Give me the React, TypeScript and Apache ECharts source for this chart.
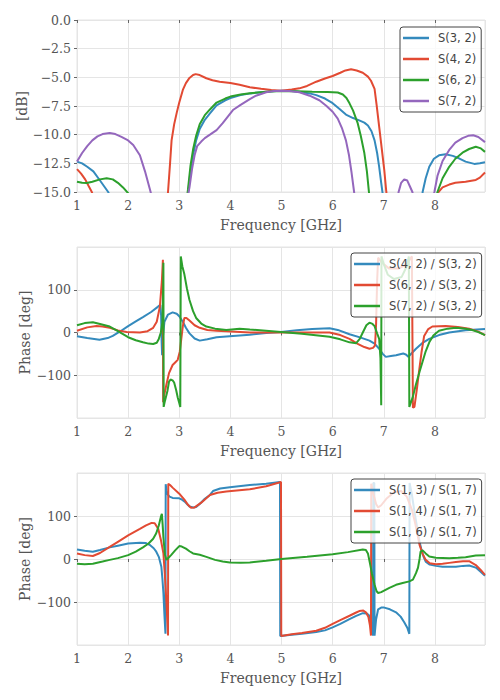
import React, { useEffect, useRef } from "react";
import * as echarts from "echarts";

// ---------- Panel 1: magnitude [dB] ----------
const S32_DB: number[][] = [
  [1.0, -12.35], [1.1, -12.5], [1.2, -12.8], [1.32, -13.2], [1.45, -14.0], [1.61, -15.0], [1.8, -17], [2.0, -20],
  [2.6, -24], [3.0, -22], [3.1, -18], [3.17, -15.2], [3.22, -13.2], [3.27, -11.8], [3.33, -10.5], [3.4, -9.5],
  [3.5, -8.7], [3.6, -8.15], [3.73, -7.45], [3.9, -7.0], [4.0, -6.8], [4.2, -6.55], [4.4, -6.4], [4.6, -6.3],
  [4.8, -6.22], [5.0, -6.18], [5.2, -6.2], [5.4, -6.3], [5.55, -6.4], [5.68, -6.55], [5.85, -6.85], [6.0, -7.25],
  [6.13, -7.75], [6.26, -8.25], [6.4, -8.55], [6.52, -8.75], [6.62, -8.95], [6.69, -9.2], [6.76, -9.7],
  [6.82, -10.5], [6.87, -11.6], [6.91, -12.8], [6.95, -14.2], [6.98, -15.2], [7.05, -19], [7.2, -25],
  [7.5, -25], [7.7, -18], [7.76, -15], [7.82, -13.8], [7.89, -12.8], [7.98, -12.1], [8.08, -11.8],
  [8.21, -11.7], [8.35, -11.85], [8.47, -12.06], [8.6, -12.35], [8.77, -12.55], [8.88, -12.5], [8.98, -12.4],
];
const S42_DB: number[][] = [
  [1.0, -13.0], [1.08, -13.4], [1.16, -13.9], [1.23, -14.5], [1.29, -15.0], [1.4, -16.5], [1.6, -20],
  [2.7, -20], [2.75, -16.5], [2.78, -15], [2.82, -12.5], [2.85, -10.5], [2.9, -9.1], [2.95, -8.1], [3.0, -7.2],
  [3.07, -6.1], [3.13, -5.5], [3.2, -5.05], [3.27, -4.8], [3.32, -4.72], [3.4, -4.8], [3.53, -5.08],
  [3.65, -5.25], [3.79, -5.38], [4.0, -5.5], [4.18, -5.65], [4.38, -5.87], [4.6, -6.0], [4.8, -6.1],
  [4.99, -6.16], [5.2, -6.06], [5.35, -5.96], [5.5, -5.75], [5.68, -5.38], [5.85, -5.1], [6.0, -4.88],
  [6.15, -4.6], [6.25, -4.4], [6.36, -4.3], [6.47, -4.4], [6.59, -4.6], [6.69, -4.94], [6.75, -5.3],
  [6.82, -6.0], [6.86, -7.4], [6.91, -9.3], [6.96, -11.2], [7.01, -13.1], [7.05, -15], [7.2, -20],
  [7.9, -20], [8.0, -16], [8.07, -15], [8.15, -14.6], [8.28, -14.35], [8.4, -14.2], [8.6, -14.1],
  [8.8, -13.95], [8.88, -13.75], [8.98, -13.3],
];
const S62_DB: number[][] = [
  [1.0, -14.1], [1.1, -14.2], [1.19, -14.22], [1.3, -14.1], [1.45, -13.9], [1.58, -13.8], [1.7, -13.9],
  [1.8, -14.2], [1.9, -14.6], [2.0, -15.1], [2.1, -16], [2.5, -22], [3.0, -22], [3.1, -17.5], [3.17, -14.8],
  [3.22, -12.7], [3.27, -11.3], [3.33, -10.1], [3.4, -9.1], [3.5, -8.3], [3.6, -7.8], [3.73, -7.2],
  [3.9, -6.85], [4.0, -6.68], [4.2, -6.5], [4.38, -6.38], [4.6, -6.3], [4.8, -6.24], [5.0, -6.2],
  [5.3, -6.22], [5.6, -6.25], [5.9, -6.27], [6.1, -6.32], [6.2, -6.5], [6.27, -6.8], [6.33, -7.27],
  [6.4, -7.9], [6.49, -9.0], [6.55, -10.1], [6.62, -11.6], [6.67, -13.2], [6.71, -15], [6.8, -19],
  [7.0, -25], [7.8, -25], [8.0, -16], [8.05, -15], [8.15, -13.8], [8.28, -12.8], [8.4, -12.1],
  [8.54, -11.57], [8.67, -11.25], [8.8, -11.05], [8.9, -11.2], [8.98, -11.5],
];
const S72_DB: number[][] = [
  [1.0, -12.35], [1.1, -11.6], [1.2, -11.0], [1.3, -10.5], [1.4, -10.15], [1.5, -9.95], [1.64, -9.85],
  [1.75, -9.95], [1.87, -10.2], [2.0, -10.5], [2.1, -10.9], [2.23, -11.8], [2.33, -13.2], [2.44, -15.0],
  [2.55, -17], [2.8, -22], [3.0, -20], [3.1, -17], [3.2, -14.6], [3.25, -13], [3.3, -11.8], [3.35, -11.0],
  [3.43, -10.6], [3.5, -10.3], [3.6, -10.0], [3.73, -9.6], [3.85, -9.0], [4.05, -7.85], [4.2, -7.4],
  [4.38, -6.9], [4.5, -6.6], [4.7, -6.3], [4.85, -6.2], [5.0, -6.16], [5.15, -6.2], [5.35, -6.3],
  [5.55, -6.6], [5.74, -7.0], [5.88, -7.5], [6.0, -8.0], [6.1, -8.6], [6.18, -9.4], [6.26, -10.5],
  [6.32, -11.8], [6.37, -13.3], [6.42, -15], [6.5, -17.5], [6.8, -25], [7.2, -18], [7.29, -15],
  [7.34, -14.2], [7.4, -13.9], [7.46, -14.0], [7.51, -14.5], [7.56, -15], [7.65, -17], [7.9, -17],
  [7.99, -15], [8.05, -13.6], [8.15, -12.3], [8.28, -11.33], [8.4, -10.7], [8.54, -10.3], [8.65, -10.1],
  [8.75, -10.05], [8.85, -10.2], [8.98, -10.65],
];

// ---------- Panel 2: phase ratios vs S(3,2) [deg] ----------
const P42_32: number[][] = [
  [1.0, -9], [1.2, -13], [1.44, -17], [1.6, -13], [1.7, -8], [1.85, 3], [2.0, 15], [2.15, 26], [2.29, 36],
  [2.45, 48], [2.58, 60], [2.63, 65], [2.645, 40], [2.655, -20], [2.665, -53], [2.68, -10], [2.71, 25],
  [2.78, 42], [2.87, 47], [2.95, 44], [3.0, 38], [3.07, 25], [3.13, 11], [3.2, -2], [3.3, -14], [3.4, -19],
  [3.55, -16], [3.73, -11], [4.05, -8], [4.38, -5], [4.7, -1], [4.99, 1.4], [5.3, 5], [5.6, 8], [5.94, 10],
  [6.1, 6], [6.33, -4], [6.55, -12], [6.72, -19], [6.82, -26], [6.91, -38], [6.98, -50], [7.04, -57],
  [7.14, -55], [7.24, -53], [7.38, -49], [7.44, -52], [7.48, -57], [7.55, -48], [7.63, -38], [7.75, -25],
  [7.89, -15], [8.08, -6], [8.28, 0], [8.6, 5], [8.98, 8],
];
const P62_32: number[][] = [
  [1.0, 4], [1.2, 12], [1.38, 15], [1.5, 14], [1.64, 11], [1.8, 5], [1.97, 1], [2.23, 0], [2.38, 3],
  [2.49, 11], [2.56, 25], [2.62, 60], [2.66, 120], [2.68, 170], [2.685, -163], [2.7, -150], [2.75, -121],
  [2.8, -95], [2.87, -76], [2.92, -70], [2.97, -64], [3.01, -45], [3.04, -15], [3.07, 15], [3.1, 34],
  [3.14, 34], [3.2, 28], [3.3, 17], [3.4, 11], [3.55, 6], [3.73, 4], [4.38, 0], [5.0, 0], [5.5, 0],
  [5.94, 0], [6.15, -6], [6.33, -15], [6.5, -27], [6.62, -34], [6.72, -38], [6.79, -36], [6.83, -30],
  [6.85, 20], [6.87, 120], [6.89, 175], [6.95, 165], [7.1, 150], [7.3, 150], [7.45, 160], [7.55, 178],
  [7.57, -176], [7.6, -174], [7.65, -130], [7.69, -91], [7.74, -45], [7.79, -8], [7.87, 8], [7.95, 14],
  [8.21, 15], [8.45, 13], [8.67, 9], [8.85, 2], [8.98, -6],
];
const P72_32: number[][] = [
  [1.0, 17], [1.15, 22], [1.31, 24], [1.45, 20], [1.64, 14], [1.8, 3], [2.0, -11], [2.15, -18], [2.29, -23],
  [2.4, -26], [2.49, -27], [2.56, -24], [2.6, -15], [2.64, 0], [2.67, 23], [2.685, 100], [2.69, 163],
  [2.695, -174], [2.72, -160], [2.77, -136], [2.8, -115], [2.83, -110], [2.87, -112], [2.9, -117],
  [2.94, -135], [2.97, -152], [3.0, -165], [3.02, -174], [3.03, 178], [3.06, 155], [3.1, 136], [3.15, 103],
  [3.2, 76], [3.27, 50], [3.33, 34], [3.43, 21], [3.53, 14], [3.7, 9], [3.92, 6], [4.18, 9], [4.38, 7],
  [4.99, 1.4], [5.4, -3], [5.94, -10], [6.15, -16], [6.33, -23], [6.46, -25], [6.53, -15], [6.59, 0],
  [6.66, 17], [6.72, 23], [6.78, 20], [6.82, 15], [6.87, -2], [6.91, -15], [6.935, -60], [6.95, -170],
  [6.955, 178], [7.0, 160], [7.08, 135], [7.2, 125], [7.35, 130], [7.45, 155], [7.49, 178], [7.5, -174],
  [7.51, -174], [7.57, -150], [7.63, -121], [7.7, -92], [7.76, -68], [7.82, -44], [7.89, -23], [7.97, -7],
  [8.08, 4], [8.25, 9], [8.41, 11], [8.6, 9], [8.73, 6], [8.85, 1], [8.98, -6],
];

// ---------- Panel 3: phase ratios vs S(1,7) [deg] ----------
const P13_17: number[][] = [
  [1.0, 22], [1.15, 19], [1.31, 17], [1.45, 21], [1.64, 27], [1.8, 31], [2.0, 36], [2.23, 38], [2.35, 37],
  [2.42, 33], [2.5, 25], [2.55, 17], [2.6, 5], [2.65, -18], [2.67, -45], [2.69, -79], [2.71, -130],
  [2.73, -174], [2.735, 174], [2.75, 160], [2.77, 151], [2.81, 145], [2.87, 142], [3.0, 141], [3.04, 139],
  [3.12, 132], [3.2, 122], [3.27, 120], [3.33, 121], [3.4, 128], [3.5, 140], [3.6, 149], [3.66, 158],
  [3.8, 164], [3.99, 167], [4.38, 172], [4.7, 175], [4.97, 179], [4.975, -179], [5.2, -176], [5.4, -174],
  [5.68, -170], [5.85, -166], [6.0, -159], [6.15, -151], [6.33, -140], [6.45, -133], [6.59, -126],
  [6.67, -127], [6.72, -132], [6.76, -150], [6.79, -178], [6.795, 177], [6.815, 177], [6.82, -178],
  [6.85, -140], [6.89, -117], [6.95, -113], [7.01, -113], [7.12, -117], [7.24, -124], [7.33, -134],
  [7.4, -147], [7.46, -160], [7.5, -174], [7.505, 177], [7.55, 150], [7.6, 110], [7.65, 75], [7.7, 40],
  [7.73, 25], [7.78, 5], [7.82, -6], [7.9, -13], [8.02, -16], [8.15, -18], [8.28, -18], [8.41, -18],
  [8.55, -16], [8.67, -15], [8.8, -20], [8.9, -30], [8.98, -39],
];
const P14_17: number[][] = [
  [1.0, 13], [1.15, 9], [1.31, 7], [1.45, 14], [1.64, 28], [1.8, 40], [2.0, 55], [2.23, 70], [2.35, 78],
  [2.46, 84], [2.52, 83], [2.59, 70], [2.64, 45], [2.69, 13], [2.72, -40], [2.75, -102], [2.78, -178],
  [2.785, 175], [2.82, 172], [2.87, 166], [3.0, 152], [3.1, 138], [3.17, 126], [3.23, 119], [3.3, 120],
  [3.43, 131], [3.6, 149], [3.75, 154], [3.92, 157], [4.38, 162], [4.7, 169], [4.99, 179], [4.995, -179],
  [5.2, -175], [5.4, -172], [5.68, -167], [5.85, -160], [6.0, -151], [6.15, -142], [6.33, -132],
  [6.45, -125], [6.52, -121], [6.6, -120], [6.65, -124], [6.7, -135], [6.73, -155], [6.75, -178],
  [6.755, 175], [6.8, 150], [6.85, 128], [6.89, 120], [6.95, 125], [7.05, 140], [7.2, 155], [7.34, 158],
  [7.45, 145], [7.55, 115], [7.62, 80], [7.7, 33], [7.76, 12], [7.82, -2], [7.9, -10], [8.02, -12],
  [8.15, -11], [8.28, -9], [8.41, -7], [8.55, -5], [8.67, -5], [8.8, -14], [8.9, -26], [8.98, -37],
];
const P16_17: number[][] = [
  [1.0, -11], [1.15, -12], [1.31, -11], [1.5, -6], [1.64, -2], [1.8, 2], [2.0, 9], [2.15, 17], [2.29, 27],
  [2.4, 36], [2.49, 47], [2.55, 60], [2.6, 78], [2.64, 98], [2.66, 105], [2.675, 80], [2.69, 50],
  [2.72, 10], [2.75, -2], [2.79, 3], [2.84, 9], [2.92, 20], [3.0, 30], [3.05, 29], [3.13, 24], [3.2, 18],
  [3.27, 13], [3.4, 10], [3.53, 5], [3.7, -2], [3.85, -6], [3.99, -8], [4.2, -9], [4.38, -8], [4.7, -4],
  [5.0, 0], [5.5, 5], [6.0, 11], [6.3, 16], [6.59, 22], [6.65, 21], [6.69, 13], [6.73, -10], [6.77, -35],
  [6.82, -60], [6.86, -75], [6.89, -79], [6.95, -77], [7.11, -67], [7.24, -60], [7.37, -56], [7.5, -52],
  [7.57, -48], [7.63, -33], [7.67, -20], [7.7, 0], [7.72, 17], [7.76, 20], [7.82, 13], [7.89, 6],
  [8.02, 3], [8.28, 2], [8.45, 3], [8.6, 4], [8.8, 8], [8.98, 9],
];

const NAMES_1 = ["S(3, 2)", "S(4, 2)", "S(6, 2)", "S(7, 2)"];
const NAMES_2 = ["S(4, 2) / S(3, 2)", "S(6, 2) / S(3, 2)", "S(7, 2) / S(3, 2)"];
const NAMES_3 = ["S(1, 3) / S(1, 7)", "S(1, 4) / S(1, 7)", "S(1, 6) / S(1, 7)"];
const COLORS = ["#348ABD", "#E24A33", "#2CA02C", "#9467BD"];

const SERIF = "'DejaVu Serif', serif";
const SANS = "'DejaVu Sans', sans-serif";
const TXT = "#555555";
const GRIDC = "#e5e5e5";

const minus = (s: string) => s.replace("-", "\u2212");

export default function App() {
  const ref = useRef<HTMLDivElement>(null);
  useEffect(() => {
    document.body.style.margin = "0";
    if (!ref.current) return;
    const chart = echarts.init(ref.current, undefined, { renderer: "svg" });

    const grids = [
      { top: 20, height: 172 },
      { top: 247, height: 171 },
      { top: 473, height: 172 },
    ].map((g) => ({
      left: 77,
      width: 408,
      top: g.top,
      height: g.height,
      show: true,
      borderColor: GRIDC,
      borderWidth: 1,
      backgroundColor: "#ffffff",
    }));

    const xAxes = [0, 1, 2].map((i) => ({
      type: "value",
      gridIndex: i,
      min: 1,
      max: 8.98,
      interval: 1,
      axisLine: { show: false },
      axisTick: { show: true, length: 3, lineStyle: { color: "#666", width: 1 } },
      axisLabel: {
        color: TXT,
        fontFamily: SERIF,
        fontSize: 12.5,
        margin: 7,
        showMaxLabel: false,
        formatter: (v: number) => (Number.isInteger(v) ? String(v) : ""),
      },
      splitLine: { show: true, lineStyle: { color: GRIDC, width: 1 } },
      name: "Frequency [GHz]",
      nameLocation: "middle",
      nameGap: 26,
      nameMoveOverlap: false,
      nameTextStyle: { color: TXT, fontFamily: SERIF, fontSize: 14 },
    }));

    const yCommon = {
      type: "value",
      axisLine: { show: false },
      axisTick: { show: true, length: 3, lineStyle: { color: "#666", width: 1 } },
      splitLine: { show: true, lineStyle: { color: GRIDC, width: 1 } },
      nameLocation: "middle",
      nameRotate: 90,
      nameMoveOverlap: false,
      nameTextStyle: { color: TXT, fontFamily: SERIF, fontSize: 14 },
    };
    const yAxes = [
      {
        ...yCommon,
        gridIndex: 0,
        min: -15,
        max: 0,
        interval: 2.5,
        name: "[dB]",
        nameGap: 48,
        axisLabel: {
          color: TXT, fontFamily: SERIF, fontSize: 12.5, margin: 6,
          formatter: (v: number) => minus(v.toFixed(1)),
        },
      },
      ...[1, 2].map((i) => ({
        ...yCommon,
        gridIndex: i,
        min: -200,
        max: 200,
        interval: 100,
        name: "Phase [deg]",
        nameGap: 45,
        axisLabel: {
          color: TXT, fontFamily: SERIF, fontSize: 12.5, margin: 6,
          showMinLabel: false, showMaxLabel: false,
          formatter: (v: number) => (Math.abs(v) >= 200 ? "" : minus(String(v))),
        },
      })),
    ];

    const mk = (name: string, data: number[][], color: string, idx: number) => ({
      type: "line",
      name,
      data,
      xAxisIndex: idx,
      yAxisIndex: idx,
      showSymbol: false,
      symbol: "none",
      clip: true,
      color,
      lineStyle: { color, width: 2 },
    });

    const series = [
      mk(NAMES_1[0], S32_DB, COLORS[0], 0),
      mk(NAMES_1[1], S42_DB, COLORS[1], 0),
      mk(NAMES_1[2], S62_DB, COLORS[2], 0),
      mk(NAMES_1[3], S72_DB, COLORS[3], 0),
      mk(NAMES_2[0], P42_32, COLORS[0], 1),
      mk(NAMES_2[1], P62_32, COLORS[1], 1),
      mk(NAMES_2[2], P72_32, COLORS[2], 1),
      mk(NAMES_3[0], P13_17, COLORS[0], 2),
      mk(NAMES_3[1], P14_17, COLORS[1], 2),
      mk(NAMES_3[2], P16_17, COLORS[2], 2),
    ];

    const legendBase = {
      orient: "vertical",
      icon: "rect",
      itemWidth: 26,
      itemHeight: 2.5,
      itemGap: 7,
      padding: [4, 5, 4, 3],
      backgroundColor: "rgba(255,255,255,0.8)",
      borderColor: "#444444",
      borderWidth: 1,
      borderRadius: 3,
      selectedMode: false,
      textStyle: { color: "#444", fontFamily: SANS, fontSize: 11.5, lineHeight: 14, padding: [0, 0, 0, 4] },
    };
    const legends = [
      { ...legendBase, data: NAMES_1, left: 400, top: 27 },
      { ...legendBase, data: NAMES_2, left: 351, top: 253 },
      { ...legendBase, data: NAMES_3, left: 351, top: 479 },
    ];

    chart.setOption({
      animation: false,
      backgroundColor: "#ffffff",
      grid: grids,
      xAxis: xAxes,
      yAxis: yAxes,
      legend: legends,
      series,
    });
    return () => chart.dispose();
  }, []);
  return <div ref={ref} style={{ width: 500, height: 700 }} />;
}
